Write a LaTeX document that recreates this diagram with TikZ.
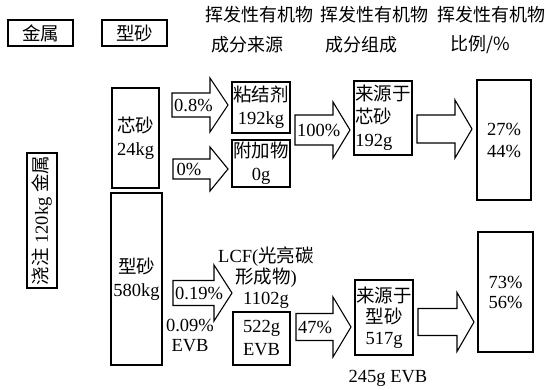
\documentclass[tikz,border=0pt]{standalone}
\usepackage{fontspec}
\setmainfont{Liberation Serif}
\newfontfamily\cjk{Noto Sans CJK SC}
\usetikzlibrary{positioning}
\tikzset{
  cellbox/.style={draw, line width=1.1pt, inner sep=0pt, align=center, font=\fontsize{18.5}{23}\selectfont},
  looselabel/.style={inner sep=0pt, align=center, font=\fontsize{18.5}{21}\selectfont},
  headtext/.style={inner sep=0pt, anchor=west, font=\fontsize{18}{24}\selectfont\cjk},
  arrowbody/.style={line width=1.1pt, line join=miter}
}
% tail x, neck x, tip x, mid y, half body, half head
\newcommand{\fatarrow}[6]{%
  \draw[arrowbody] (#1,#4-#5) -- (#2,#4-#5) -- (#2,#4-#6) -- (#3,#4)
    -- (#2,#4+#6) -- (#2,#4+#5) -- (#1,#4+#5) -- cycle;}

\begin{document}
\begin{tikzpicture}[x=1pt, y=-1pt]
  \useasboundingbox (0,0) rectangle (547,389);
  % legend and headings
  \node[cellbox, minimum width=65, minimum height=26] (metal) at (40.5,33) {{\cjk 金属}};
  \node[cellbox, minimum width=65, minimum height=26] (sand) at (134.5,33) {{\cjk 型砂}};
  \node[headtext] (h1a) at (205,15) {挥发性有机物};
  \node[headtext] (h1b) at (211,45) {成分来源};
  \node[headtext] (h2a) at (320,15) {挥发性有机物};
  \node[headtext] (h2b) at (325,45) {成分组成};
  \node[headtext] (h3a) at (437,15) {挥发性有机物};
  \node[headtext] (h3b) at (450,45) {比例/\%};
  % sources
  \node[cellbox, rotate=90, minimum width=135, minimum height=30] (pour) at (42,220.5) {{\cjk 浇注} 120kg {\cjk 金属}};
  \node[cellbox, minimum width=47, minimum height=100] (core) at (135.5,138) {{\cjk 芯砂}\\24kg};
  \node[cellbox, minimum width=51, minimum height=172] (mould) at (136.5,279) {{\cjk 型砂}\\580kg};
  % upper row
  \fatarrow{172}{210}{228}{105}{12}{27}
  \node[looselabel, anchor=west] (p1) at (174,105) {0.8\%};
  \fatarrow{173}{210}{228}{169}{10}{22}
  \node[looselabel] (p2) at (189,169) {0\%};
  \node[cellbox, minimum width=58, minimum height=51] (binder) at (261,107.5) {{\cjk 粘结剂}\\192kg};
  \node[cellbox, minimum width=58, minimum height=47] (additive) at (261,163.5) {{\cjk 附加物}\\0g};
  \fatarrow{295}{333}{350}{130}{15}{28}
  \node[looselabel, anchor=west] (p3) at (297,130) {100\%};
  \node[cellbox, align=left, minimum width=58, minimum height=74] (fromcore) at (383,118) {{\cjk 来源于}\\{\cjk 芯砂}\\192g};
  \fatarrow{417}{455}{472}{129}{14}{29}
  \node[cellbox, minimum width=54, minimum height=120, font=\fontsize{18.5}{22}\selectfont] (share1) at (504,140) {27\%\\44\%};
  % lower row
  \fatarrow{173}{214}{232}{293}{12.5}{28}
  \node[looselabel, anchor=west] (p4) at (175,293) {0.19\%};
  \node[looselabel, font=\fontsize{18.5}{20}\selectfont] (evb1) at (190,335) {0.09\%\\EVB};
  \node[looselabel] (lcf) at (266,278) {LCF({\cjk 光亮碳}\\{\cjk 形成物})\\1102g};
  \node[cellbox, minimum width=57, minimum height=53] (evb2) at (261.5,338.5) {522g\\EVB};
  \fatarrow{296}{333}{351}{327}{13.5}{30}
  \node[looselabel, anchor=west] (p5) at (298,327) {47\%};
  \node[cellbox, minimum width=58, minimum height=75, font=\fontsize{18.5}{21}\selectfont] (frommould) at (384,317.5) {{\cjk 来源于}\\{\cjk 型砂}\\517g};
  \node[looselabel] (evb3) at (388,378) {245g EVB};
  \fatarrow{418}{457}{474}{322}{13.5}{29.5}
  \node[cellbox, minimum width=55, minimum height=120, font=\fontsize{18.5}{20}\selectfont] (share2) at (505.5,292) {73\%\\56\%};
\end{tikzpicture}
\end{document}
